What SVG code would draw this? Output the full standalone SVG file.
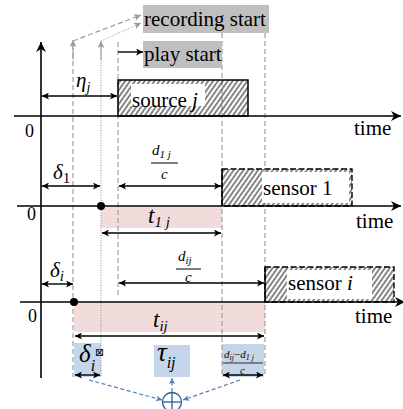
<svg xmlns="http://www.w3.org/2000/svg" width="403" height="409" viewBox="0 0 403 409">
<style>
text{font-family:'Liberation Serif','Times New Roman','DejaVu Serif',serif}
.t{fill:#000}
.m{font-style:italic;fill:#000}
.ax{stroke:#000;stroke-width:1.6;fill:none}
.gd{stroke:#8c8c8c;stroke-width:1;stroke-dasharray:5 3;fill:none}
.gdot{stroke:#8c8c8c;stroke-width:1;stroke-dasharray:1 1.5;fill:none}
.da{stroke:#000;stroke-width:1.4;fill:none;marker-start:url(#ah);marker-end:url(#ah)}
.bd{stroke:#4a7ebb;stroke-width:1.2;stroke-dasharray:4 2.5;fill:none;marker-end:url(#bh)}
.lbl{fill:#bfbfbf}
.pink{fill:#f2dcdb}
.blue{fill:#c6d6ea}
</style>
<defs>
<marker id="ah" viewBox="0 0 10 10" refX="10" refY="5" markerWidth="8" markerHeight="7" markerUnits="userSpaceOnUse" orient="auto-start-reverse"><path d="M0,0 L10,5 L0,10 L2.5,5 Z" fill="#000"/></marker>
<marker id="axh" viewBox="0 0 10 10" refX="10" refY="5" markerWidth="11" markerHeight="10" markerUnits="userSpaceOnUse" orient="auto"><path d="M0,0 L10,5 L0,10 L3,5 Z" fill="#000"/></marker>
<marker id="gh" viewBox="0 0 10 10" refX="10" refY="5" markerWidth="8" markerHeight="7" markerUnits="userSpaceOnUse" orient="auto"><path d="M0,0 L10,5 L0,10 L2.5,5 Z" fill="#9a9a9a"/></marker>
<marker id="bh" viewBox="0 0 10 10" refX="10" refY="5" markerWidth="7" markerHeight="6" markerUnits="userSpaceOnUse" orient="auto"><path d="M0,0 L10,5 L0,10 L2.5,5 Z" fill="#4a7ebb"/></marker>
<pattern id="hatch" width="4" height="8" patternUnits="userSpaceOnUse" patternTransform="rotate(35)"><line x1="1" y1="0" x2="1" y2="8" stroke="#222" stroke-width="1.1"/></pattern>
</defs>

<rect class="pink" x="101" y="207" width="121" height="21"/>
<rect class="pink" x="74" y="303" width="191" height="29"/>
<rect class="blue" x="74" y="343" width="27" height="34"/>
<rect class="blue" x="154" y="345" width="36" height="32"/>
<rect class="blue" x="222" y="344" width="42" height="33"/>

<g id="guides">
<line class="gd" x1="73" y1="45" x2="73" y2="377"/>
<line class="gdot" x1="101" y1="45" x2="101" y2="377"/>
<line class="gd" x1="118" y1="42" x2="118" y2="297"/>
<line class="gd" x1="222" y1="33" x2="222" y2="377"/>
<line class="gd" x1="265" y1="33" x2="265" y2="377"/>
</g>

<g id="recording-start">
<rect class="lbl" x="143" y="5" width="126" height="28"/>
<text class="t" x="144" y="26" font-size="21" font-family="Liberation Serif, serif">recording start</text>
</g>
<g id="play-start">
<rect class="lbl" x="143" y="41" width="79" height="27"/>
<text class="t" x="144" y="61" font-size="21" font-family="Liberation Serif, serif">play start</text>
</g>

<g id="axes">
<line class="ax" x1="41" y1="378" x2="41" y2="42" marker-end="url(#axh)"/>
<line class="ax" x1="14" y1="116" x2="401" y2="116" marker-end="url(#axh)"/>
<line class="ax" x1="17" y1="206" x2="401" y2="206" marker-end="url(#axh)"/>
<line class="ax" x1="20" y1="302" x2="405" y2="302" marker-end="url(#axh)"/>
<text class="t" x="25" y="137" font-size="18">0</text>
<text class="t" x="27" y="220" font-size="18">0</text>
<text class="t" x="28" y="322" font-size="18">0</text>
<text class="t" x="354" y="135" font-size="21">time</text>
<text class="t" x="356" y="228" font-size="21">time</text>
<text class="t" x="355" y="323" font-size="21">time</text>
</g>

<g id="source-j">
<rect x="118" y="80" width="130" height="36" fill="url(#hatch)"/>
<rect x="131" y="84" width="74" height="22" fill="#fff"/>
<rect x="118" y="80" width="130" height="36" fill="none" stroke="#000" stroke-width="1.5"/>
<text class="t" x="132" y="107" font-size="21">source <tspan class="m">j</tspan></text>
</g>

<g id="sensor-1">
<rect x="222" y="169" width="130" height="37" fill="url(#hatch)"/>
<rect x="262" y="172" width="87" height="31" fill="#fff"/>
<rect x="222" y="169" width="130" height="37" fill="none" stroke="#000" stroke-width="1.4" stroke-dasharray="6 2.5"/>
<line x1="222" y1="169" x2="222" y2="206" stroke="#000" stroke-width="1.4"/>
<text class="t" x="263" y="195" font-size="21">sensor 1</text>
</g>

<g id="sensor-i">
<rect x="265" y="267" width="129" height="35" fill="url(#hatch)"/>
<rect x="287" y="270" width="85" height="29" fill="#fff"/>
<rect x="265" y="267" width="129" height="35" fill="none" stroke="#000" stroke-width="1.4" stroke-dasharray="6 2.5"/>
<line x1="265" y1="267" x2="265" y2="302" stroke="#000" stroke-width="1.4"/>
<text class="t" x="288" y="290" font-size="21">sensor <tspan class="m">i</tspan></text>
</g>

<circle cx="101" cy="206" r="4" fill="#000"/>
<circle cx="74" cy="302" r="4" fill="#000"/>

<g id="connectors">
<line x1="73" y1="60" x2="73" y2="40" stroke="#9a9a9a" stroke-width="1" marker-end="url(#gh)"/>
<line x1="101" y1="60" x2="101" y2="41" stroke="#9a9a9a" stroke-width="1" marker-end="url(#gh)"/>
<line x1="73" y1="41" x2="141" y2="15" stroke="#9a9a9a" stroke-width="1.2" stroke-dasharray="5 3" marker-end="url(#gh)"/>
<line x1="101" y1="41" x2="141" y2="23" stroke="#9a9a9a" stroke-width="1" stroke-dasharray="1 1.5" marker-end="url(#gh)"/>
<line x1="118" y1="52" x2="143" y2="52" stroke="#000" stroke-width="1.4" marker-end="url(#ah)"/>
<line class="da" x1="42" y1="96" x2="117" y2="96"/>
<line class="da" x1="42" y1="186" x2="100" y2="186"/>
<line class="da" x1="119" y1="186" x2="221" y2="186"/>
<line class="da" x1="102" y1="233" x2="221" y2="233"/>
<line class="da" x1="42" y1="284" x2="73" y2="284"/>
<line class="da" x1="119" y1="283" x2="264" y2="283"/>
<line class="da" x1="75" y1="336" x2="264" y2="336"/>
<line class="da" x1="75" y1="375" x2="100" y2="375"/>
<line class="da" x1="223" y1="375" x2="263" y2="375"/>
<line class="bd" x1="89" y1="380" x2="162" y2="400"/>
<line class="bd" x1="240" y1="380" x2="183" y2="400"/>
<line class="bd" x1="172" y1="392" x2="172" y2="378"/>
</g>

<g id="labels">
<text class="m" x="76" y="87" font-size="21">η<tspan font-size="14" dy="5">j</tspan></text>
<text class="m" x="53" y="179" font-size="21">δ<tspan font-style="normal" font-size="15" dy="4">1</tspan></text>
<text class="m" x="152" y="155" font-size="15">d<tspan font-size="11" dy="3">1 j</tspan></text>
<line x1="151" y1="163" x2="178" y2="163" stroke="#000" stroke-width="1"/>
<text class="m" x="161" y="179" font-size="15">c</text>
<text class="m" x="148" y="223" font-size="23">t<tspan font-size="15" dy="4">1 j</tspan></text>
<text class="m" x="50" y="277" font-size="21">δ<tspan font-size="15" dy="4">i</tspan></text>
<text class="m" x="178" y="261" font-size="15">d<tspan font-size="11" dy="3">ij</tspan></text>
<line x1="176" y1="269" x2="201" y2="269" stroke="#000" stroke-width="1"/>
<text class="m" x="185" y="282" font-size="15">c</text>
<text class="m" x="153" y="327" font-size="23">t<tspan font-size="15" dy="4">ij</tspan></text>
</g>

<g id="delta-box">
<text class="m" x="79" y="362" font-size="25">δ<tspan font-size="16" dy="9">i</tspan></text>
<text x="95" y="356" font-size="11" font-family="DejaVu Sans,sans-serif" style="font-family:'DejaVu Sans',sans-serif">⊠</text>
</g>
<g id="tau-box">
<text class="m" x="157" y="361" font-size="27">τ<tspan font-size="16" dy="7">ij</tspan></text>
</g>
<g id="diff-box">
<text class="m" x="224" y="358" font-size="11">d<tspan font-size="8" dy="2">ij</tspan><tspan font-style="normal" dy="-2">−</tspan>d<tspan font-size="8" dy="2">1 j</tspan></text>
<line x1="223" y1="363" x2="263" y2="363" stroke="#000" stroke-width="0.8"/>
<text class="m" x="240" y="374" font-size="11">c</text>
</g>
<g id="sum">
<circle cx="172" cy="402" r="9.5" fill="#fff" stroke="#2f5d9a" stroke-width="1.3"/>
<line x1="162.5" y1="402" x2="181.5" y2="402" stroke="#2f5d9a" stroke-width="1.3"/>
<line x1="172" y1="392.5" x2="172" y2="411.5" stroke="#2f5d9a" stroke-width="1.3"/>
</g>
</svg>
